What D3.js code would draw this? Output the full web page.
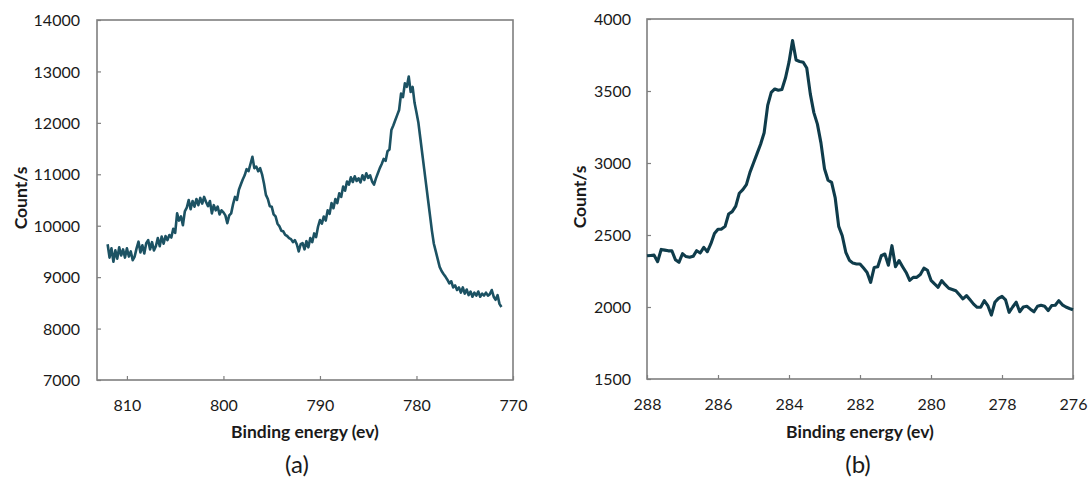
<!DOCTYPE html>
<html>
<head>
<meta charset="utf-8">
<script src="https://cdn.jsdelivr.net/npm/d3@7"></script>
<style>
  html, body { margin: 0; padding: 0; background: #ffffff; }
  svg { display: block; }
  text { font-family: Lato, "Open Sans", sans-serif; fill: #1a1a1a; }
</style>
</head>
<body>
<svg id="chart" width="1089" height="478"></svg>
<script>
// ---------- Data: panel (a) ----------
const energyA = [
  812.0,811.8,811.6,811.4,811.2,811.0,810.8,810.6,810.4,810.2,
  810.0,809.8,809.6,809.4,809.2,809.0,808.8,808.6,808.4,808.2,
  808.0,807.8,807.6,807.4,807.2,807.0,806.8,806.6,806.4,806.2,
  806.0,805.8,805.6,805.4,805.2,805.0,804.8,804.6,804.4,804.2,
  804.0,803.8,803.6,803.4,803.2,803.0,802.8,802.6,802.4,802.2,
  802.0,801.8,801.6,801.4,801.2,801.0,800.8,800.6,800.4,800.2,
  800.0,799.8,799.6,799.4,799.2,799.0,798.8,798.6,798.4,798.2,
  798.0,797.8,797.6,797.4,797.2,797.0,796.8,796.6,796.4,796.2,
  796.0,795.8,795.6,795.4,795.2,795.0,794.8,794.6,794.4,794.2,
  794.0,793.8,793.6,793.4,793.2,793.0,792.8,792.6,792.4,792.2,
  792.0,791.8,791.6,791.4,791.2,791.0,790.8,790.6,790.4,790.2,
  790.0,789.8,789.6,789.4,789.2,789.0,788.8,788.6,788.4,788.2,
  788.0,787.8,787.6,787.4,787.2,787.0,786.8,786.6,786.4,786.2,
  786.0,785.8,785.6,785.4,785.2,785.0,784.8,784.6,784.4,784.2,
  784.0,783.8,783.6,783.4,783.2,783.0,782.8,782.6,782.4,782.2,
  782.0,781.8,781.6,781.4,781.2,781.0,780.8,780.6,780.4,780.2,
  780.0,779.8,779.6,779.4,779.2,779.0,778.8,778.6,778.4,778.2,
  778.0,777.8,777.6,777.4,777.2,777.0,776.8,776.6,776.4,776.2,
  776.0,775.8,775.6,775.4,775.2,775.0,774.8,774.6,774.4,774.2,
  774.0,773.8,773.6,773.4,773.2,773.0,772.8,772.6,772.4,772.2,
  772.0,771.8,771.6,771.4,771.2
];
const countsA = [
  9640,9380,9560,9300,9520,9360,9580,9420,9540,9380,
  9560,9400,9500,9330,9400,9560,9690,9480,9620,9460,
  9660,9720,9540,9680,9520,9600,9760,9600,9790,9650,
  9800,9720,9820,9770,9940,9860,10240,10100,10180,10010,
  10280,10350,10500,10320,10480,10370,10520,10400,10540,10430,
  10560,10460,10380,10480,10240,10400,10300,10370,10220,10300,
  10260,10200,10050,10200,10240,10420,10560,10500,10700,10800,
  10900,10980,11100,11060,11200,11340,11120,11150,11060,11120,
  11000,10820,10600,10520,10380,10370,10220,10180,10040,9990,
  9900,9890,9820,9800,9760,9740,9680,9720,9640,9500,
  9640,9660,9540,9700,9580,9760,9680,9850,9780,9980,
  10110,10040,10180,10100,10300,10230,10440,10340,10520,10440,
  10630,10560,10760,10680,10860,10800,10940,10850,10960,10870,
  10920,10840,10980,10890,11020,10930,10980,10860,10800,10920,
  11020,11120,11200,11300,11260,11450,11480,11860,11950,12050,
  12150,12250,12570,12500,12770,12700,12900,12600,12700,12390,
  12200,12000,11700,11400,11100,10800,10500,10200,9900,9650,
  9500,9350,9200,9120,9060,9010,8950,8880,8920,8800,
  8840,8750,8800,8700,8800,8680,8760,8650,8720,8620,
  8700,8640,8720,8620,8680,8640,8700,8640,8670,8750,
  8620,8560,8650,8480,8420
];
const xTicksA = [810, 800, 790, 780, 770];
const yTicksA = [7000, 8000, 9000, 10000, 11000, 12000, 13000, 14000];

// ---------- Data: panel (b) ----------
const energyB = [
  288.0,287.9,287.8,287.7,287.6,287.5,287.4,287.3,287.2,287.1,
  287.0,286.9,286.8,286.7,286.6,286.5,286.4,286.3,286.2,286.1,
  286.0,285.9,285.8,285.7,285.6,285.5,285.4,285.3,285.2,285.1,
  285.0,284.9,284.8,284.7,284.6,284.5,284.4,284.3,284.2,284.1,
  284.0,283.9,283.8,283.7,283.6,283.5,283.4,283.3,283.2,283.1,
  283.0,282.9,282.8,282.7,282.6,282.5,282.4,282.3,282.2,282.1,
  282.0,281.9,281.8,281.7,281.6,281.5,281.4,281.3,281.2,281.1,
  281.0,280.9,280.8,280.7,280.6,280.5,280.4,280.3,280.2,280.1,
  280.0,279.9,279.8,279.7,279.6,279.5,279.4,279.3,279.2,279.1,
  279.0,278.9,278.8,278.7,278.6,278.5,278.4,278.3,278.2,278.1,
  278.0,277.9,277.8,277.7,277.6,277.5,277.4,277.3,277.2,277.1,
  277.0,276.9,276.8,276.7,276.6,276.5,276.4,276.3,276.2,276.1,
  276.0
];
const countsB = [
  2356,2358,2360,2315,2400,2395,2390,2391,2328,2310,
  2370,2350,2345,2352,2391,2375,2414,2384,2440,2510,
  2540,2541,2560,2646,2662,2700,2790,2815,2850,2935,
  3000,3065,3130,3210,3400,3490,3514,3505,3510,3590,
  3700,3850,3715,3705,3700,3660,3480,3350,3270,3140,
  2960,2880,2865,2760,2560,2495,2380,2325,2305,2299,
  2299,2270,2240,2171,2275,2280,2356,2368,2290,2426,
  2280,2322,2280,2240,2185,2206,2206,2225,2270,2255,
  2185,2160,2137,2183,2155,2130,2122,2113,2085,2056,
  2079,2050,2020,1998,1998,2044,2010,1944,2033,2060,
  2074,2050,1963,2000,2033,1967,2000,2005,1985,1967,
  2005,2012,2005,1975,2010,2012,2044,2015,2000,1990,
  1981
];
const xTicksB = [288, 286, 284, 282, 280, 278, 276];
const yTicksB = [1500, 2000, 2500, 3000, 3500, 4000];

const xTitle = "Binding energy (ev)";
const yTitle = "Count/s";

// ---------- Drawing ----------
const svg = d3.select("#chart");

function panel(opt) {
  const x = d3.scaleLinear().domain(opt.xDomain).range([opt.left, opt.right]);
  const y = d3.scaleLinear().domain(opt.yDomain).range([opt.bottom, opt.top]);
  const g = svg.append("g");
  const axisColor = "#7f7f7f";

  // frame
  g.append("rect")
    .attr("x", opt.left).attr("y", opt.top)
    .attr("width", opt.right - opt.left).attr("height", opt.bottom - opt.top)
    .attr("fill", "none").attr("stroke", axisColor).attr("stroke-width", 1.6);

  // x axis (ticks inside)
  const xa = g.append("g").attr("transform", `translate(0,${opt.bottom})`)
    .call(d3.axisBottom(x).tickValues(opt.xTicks).tickSize(-4).tickPadding(0).tickFormat(d3.format("d")));
  xa.select(".domain").remove();
  xa.selectAll(".tick line").attr("stroke", axisColor).attr("stroke-width", 1.2);
  xa.selectAll(".tick text").attr("dy", null).attr("y", 31)
    .style("font-size", "16px").attr("fill", "#1a1a1a");

  // y axis (ticks inside)
  const ya = g.append("g").attr("transform", `translate(${opt.left},0)`)
    .call(d3.axisLeft(y).tickValues(opt.yTicks).tickSize(-4).tickPadding(0).tickFormat(d3.format("d")));
  ya.select(".domain").remove();
  ya.selectAll(".tick line").attr("stroke", axisColor).attr("stroke-width", 1.2);
  ya.selectAll(".tick text").attr("x", -opt.yLabelGap).attr("dy", "0.35em")
    .style("font-size", "16px").attr("fill", "#1a1a1a");

  // line
  const line = d3.line().x((d, i) => x(opt.xs[i])).y(d => y(d));
  g.append("path").datum(opt.ys)
    .attr("d", line)
    .attr("fill", "none")
    .attr("stroke", opt.color)
    .attr("stroke-width", opt.width)
    .attr("stroke-linejoin", "round");

  // titles
  g.append("text")
    .attr("x", (opt.left + opt.right) / 2).attr("y", 438)
    .attr("text-anchor", "middle")
    .style("font-size", "17.5px").style("font-weight", "bold")
    .text(xTitle);
  g.append("text")
    .attr("transform", `translate(${opt.yTitleX},${(opt.top + opt.bottom) / 2 - 2}) rotate(-90)`)
    .attr("text-anchor", "middle")
    .style("font-size", "17.5px").style("font-weight", "bold")
    .text(yTitle);
  g.append("text")
    .attr("x", opt.captionX).attr("y", 473)
    .attr("text-anchor", "middle")
    .style("font-size", "24px")
    .text(opt.caption);
}

panel({
  xs: energyA, ys: countsA,
  xDomain: [813.1, 770], yDomain: [7000, 14000],
  xTicks: xTicksA, yTicks: yTicksA,
  left: 97, right: 513, top: 20, bottom: 380,
  yLabelGap: 17, yTitleX: 27, captionX: 297, caption: "(a)",
  color: "#1c5263", width: 2.6
});

panel({
  xs: energyB, ys: countsB,
  xDomain: [288, 276], yDomain: [1500, 4000],
  xTicks: xTicksB, yTicks: yTicksB,
  left: 647, right: 1073, top: 19, bottom: 379,
  yLabelGap: 16, yTitleX: 586, captionX: 858, caption: "(b)",
  color: "#0f3c4b", width: 3.1
});
</script>
</body>
</html>
